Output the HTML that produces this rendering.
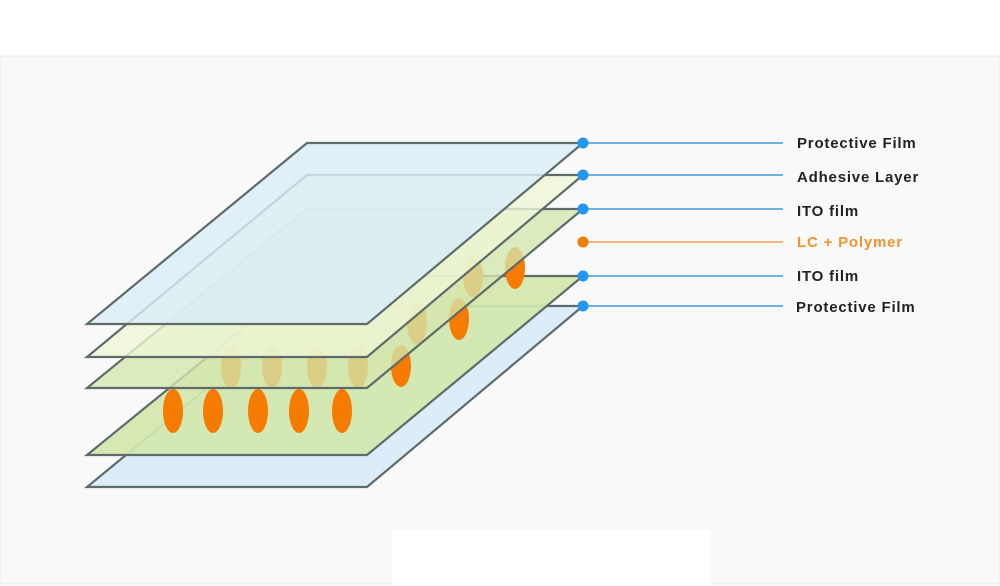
<!DOCTYPE html>
<html><head><meta charset="utf-8"><style>
html,body{margin:0;padding:0;width:1000px;height:586px;overflow:hidden;background:#fff;}
</style></head><body>
<svg width="1000" height="586" viewBox="0 0 1000 586" xmlns="http://www.w3.org/2000/svg" style="display:block">
<rect x="0" y="56" width="1000" height="528" fill="#f9f9f9" stroke="#ececec" stroke-width="1"/>
<rect x="392" y="530" width="318" height="56" fill="#ffffff"/>
<g stroke="#5f6b6b" stroke-width="2.2" stroke-linejoin="miter">
<polygon points="307,306 583,306 367,487 87,487" fill="#dcecf8"/>
<polygon points="307,276 583,276 367,455 87,455" fill="#d3e7ad" fill-opacity="0.92"/>
</g>
<g fill="#f57c00">
<ellipse cx="173" cy="411" rx="10" ry="22"/>
<ellipse cx="213" cy="411" rx="10" ry="22"/>
<ellipse cx="258" cy="411" rx="10" ry="22"/>
<ellipse cx="299" cy="411" rx="10" ry="22"/>
<ellipse cx="342" cy="411" rx="10" ry="22"/>
<ellipse cx="231" cy="367" rx="10" ry="21"/>
<ellipse cx="272" cy="367" rx="10" ry="21"/>
<ellipse cx="317" cy="367" rx="10" ry="21"/>
<ellipse cx="358" cy="367" rx="10" ry="21"/>
<ellipse cx="401" cy="366" rx="10" ry="21"/>
<ellipse cx="459" cy="319" rx="10" ry="21"/>
<ellipse cx="515" cy="268" rx="10" ry="21"/>
<ellipse cx="417" cy="323" rx="10" ry="21"/>
<ellipse cx="473" cy="276" rx="10" ry="21"/>
</g>
<g stroke="#5f6b6b" stroke-width="2.2">
<polygon points="307,209 583,209 367,388 87,388" fill="#d3e7ad" fill-opacity="0.78"/>
<polygon points="307,175 583,175 367,357 87,357" fill="#eef6d6" fill-opacity="0.8"/>
<polygon points="307,143 583,143 367,324 87,324" fill="#dbedf8" fill-opacity="0.82"/>
</g>
<g stroke="#3d9ad6" stroke-width="1.5">
<line x1="583" y1="143" x2="783" y2="143"/>
<line x1="583" y1="175" x2="783" y2="175"/>
<line x1="583" y1="209" x2="783" y2="209"/>
<line x1="583" y1="276" x2="783" y2="276"/>
<line x1="583" y1="306" x2="783" y2="306"/>
</g>
<line x1="583" y1="242" x2="783" y2="242" stroke="#f0a050" stroke-width="1.5"/>
<g fill="#2196f3">
<circle cx="583" cy="143" r="5.5"/><circle cx="583" cy="175" r="5.5"/><circle cx="583" cy="209" r="5.5"/>
<circle cx="583" cy="276" r="5.5"/><circle cx="583" cy="306" r="5.5"/>
</g>
<circle cx="583" cy="242" r="5.5" fill="#f57c00"/>
<g font-family="Liberation Sans, sans-serif" font-size="15" font-weight="bold" fill="#222" letter-spacing="0.8">
<text x="797" y="148">Protective Film</text>
<text x="797" y="182">Adhesive Layer</text>
<text x="797" y="216">ITO film</text>
<text x="797" y="247" fill="#f0952e">LC + Polymer</text>
<text x="797" y="281">ITO film</text>
<text x="796" y="312">Protective Film</text>
</g>
</svg>
</body></html>
